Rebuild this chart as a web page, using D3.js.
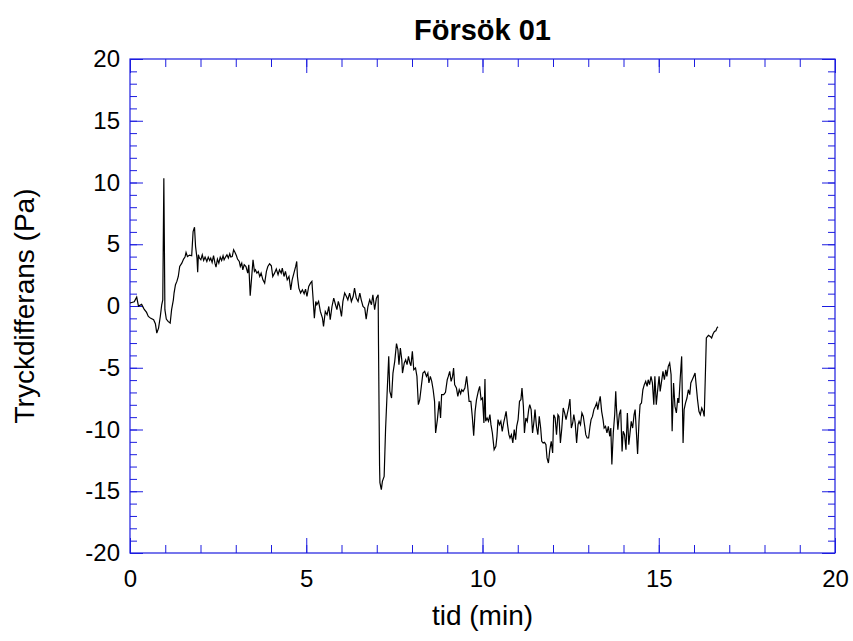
<!DOCTYPE html>
<html>
<head>
<meta charset="utf-8">
<script src="https://cdn.jsdelivr.net/npm/d3@7"></script>
<style>
  html, body { margin: 0; padding: 0; background: #fff; }
  svg { display: block; font-family: "Liberation Sans", Arial, Helvetica, sans-serif; }
</style>
</head>
<body>
<svg id="chart" width="853" height="641"></svg>
<script>
// Försök 01: pressure difference (Pa) over time (min)
const timeMin = [
  0.00,0.12,0.19,0.24,0.33,0.40,0.47,0.52,0.59,0.67,0.72,0.76,0.81,0.86,0.90,0.93,0.96,0.99,1.03,1.08,
  1.14,1.18,1.23,1.25,1.29,1.33,1.37,1.41,1.47,1.52,1.56,1.59,1.63,1.69,1.75,1.79,1.83,1.86,1.90,1.92,
  1.94,1.97,2.01,2.05,2.09,2.13,2.18,2.22,2.26,2.29,2.33,2.37,2.41,2.44,2.48,2.52,2.56,2.60,2.64,2.67,
  2.71,2.75,2.79,2.83,2.86,2.90,2.94,2.98,3.02,3.05,3.10,3.13,3.17,3.20,3.24,3.29,3.34,3.37,3.41,
  3.49,3.53,3.56,3.60,3.64,3.68,3.72,3.77,3.82,3.87,3.91,3.96,4.01,4.05,4.10,4.15,4.20,4.24,4.29,4.32,
  4.37,4.41,4.46,4.51,4.56,4.60,4.65,4.70,4.73,4.75,4.79,4.84,4.89,4.94,4.98,5.02,5.07,5.12,5.16,5.19,
  5.23,5.27,5.30,5.35,5.40,5.46,5.49,5.54,5.59,5.64,5.68,5.73,5.78,5.83,5.87,5.91,5.95,6.00,6.04,6.09,
  6.14,6.18,6.23,6.28,6.33,6.37,6.42,6.47,6.52,6.56,6.61,6.66,6.70,6.75,6.80,6.85,6.89,6.94,6.99,7.04,
  7.05,7.08,7.09,7.13,7.16,7.21,7.25,7.29,7.34,7.37,7.42,7.46,7.51,7.56,7.60,7.63,7.67,7.71,7.73,7.78,
  7.82,7.86,7.90,7.94,7.97,8.01,8.05,8.10,8.14,8.18,8.22,8.27,8.31,8.36,8.41,8.45,8.48,8.52,8.56,8.60,
  8.64,8.67,8.72,8.77,8.81,8.84,8.90,8.95,9.00,9.03,9.07,9.11,9.15,9.18,9.21,9.26,9.30,9.34,9.38,9.41,
  9.45,9.50,9.55,9.58,9.62,9.67,9.71,9.75,9.79,9.83,9.88,9.92,9.96,10.00,10.04,10.07,10.09,10.13,10.17,10.21,
  10.24,10.28,10.33,10.38,10.41,10.44,10.48,10.52,10.56,10.60,10.63,10.67,10.71,10.75,10.78,10.82,10.86,10.90,10.94,10.97,
  11.01,11.05,11.09,11.12,11.16,11.19,11.23,11.27,11.31,11.34,11.38,11.42,11.46,11.49,11.53,11.57,11.61,11.65,11.68,11.72,
  11.76,11.80,11.83,11.87,11.91,11.95,11.99,12.02,12.06,12.10,12.14,12.17,12.21,12.25,12.29,12.33,12.37,12.40,12.44,12.48,
  12.52,12.56,12.59,12.63,12.67,12.71,12.74,12.78,12.82,12.86,12.90,12.93,12.97,13.01,13.05,13.08,13.12,13.16,13.20,13.24,
  13.27,13.31,13.34,13.38,13.42,13.45,13.49,13.53,13.57,13.61,13.64,13.67,13.71,13.75,13.78,13.80,13.84,13.88,13.92,13.96,
  13.99,14.03,14.07,14.11,14.15,14.18,14.22,14.26,14.30,14.33,14.37,14.40,14.44,14.47,14.51,14.55,14.59,14.63,14.67,14.70,
  14.74,14.78,14.82,14.86,14.89,14.93,14.97,15.01,15.04,15.08,15.12,15.16,15.20,15.23,15.27,15.31,15.35,15.38,15.42,15.46,
  15.50,15.54,15.57,15.61,15.65,15.69,15.72,15.76,15.80,15.84,15.88,15.91,15.95,15.99,16.03,16.06,16.10,16.14,16.18,16.22,
  16.26,16.29,16.32,16.35,16.41,16.46,16.50,16.54,16.58,16.62,16.65,16.68
];

const pressurePa = [
  0.24,0.34,0.72,0.00,0.13,-0.25,-0.52,-0.84,-1.00,-1.11,-1.44,-2.19,-1.79,-0.84,0.10,0.50,10.35,-0.30,-1.06,-1.25,
  -1.38,-0.30,0.50,1.05,1.72,1.99,2.39,3.20,3.47,3.80,3.96,4.33,4.00,4.12,4.07,6.03,6.38,4.82,3.88,2.74,
  4.15,3.88,3.74,4.15,3.69,3.96,3.61,3.96,3.69,3.88,3.53,4.07,3.47,3.15,3.80,3.47,3.96,3.69,4.07,3.74,
  3.96,4.15,3.88,4.23,3.96,4.00,4.55,4.33,4.07,3.80,3.61,3.20,3.47,2.93,3.34,3.20,2.66,3.34,0.83,
  3.74,2.80,2.93,2.66,2.80,2.39,2.66,2.12,1.85,2.80,3.20,3.42,3.26,2.39,2.66,2.99,2.53,2.93,2.66,3.07,
  2.39,2.80,2.12,2.39,1.31,2.12,2.66,3.20,3.61,2.39,1.45,1.05,1.31,0.99,1.37,0.77,1.58,1.85,1.99,0.77,
  -0.98,0.37,0.10,0.37,-0.44,-0.98,-1.65,-0.44,-0.71,-0.04,-1.11,-0.04,0.64,0.10,-0.30,0.37,-0.04,-0.84,0.37,1.05,
  0.77,0.50,1.05,0.37,0.77,1.45,0.64,0.37,1.05,0.50,-0.04,-0.17,-1.06,-0.04,0.50,0.10,0.91,-0.30,0.64,0.91,
  -3.20,-12.98,-14.30,-14.87,-14.20,-13.80,-10.00,-7.30,-4.08,-6.90,-7.45,-5.43,-4.48,-3.05,-3.54,-4.75,-3.40,-4.35,-5.43,-4.62,
  -4.35,-4.75,-4.08,-4.62,-4.83,-3.67,-5.16,-5.02,-5.70,-7.99,-7.58,-6.37,-5.43,-5.29,-5.70,-5.43,-6.23,-5.70,-6.10,-6.78,
  -7.72,-10.28,-9.20,-7.72,-9.07,-7.18,-7.18,-6.99,-5.97,-5.70,-5.29,-6.10,-5.70,-5.02,-6.37,-6.64,-7.32,-6.78,-7.10,-6.78,
  -6.91,-6.64,-5.70,-6.51,-7.72,-7.72,-8.94,-10.50,-8.53,-7.58,-6.91,-6.51,-7.58,-7.45,-9.47,-5.91,-9.34,-9.07,-9.34,-8.80,
  -9.61,-10.28,-11.63,-11.36,-10.55,-9.20,-9.61,-9.34,-10.15,-9.47,-9.07,-8.53,-9.61,-10.42,-10.69,-10.42,-11.09,-10.01,-10.82,-9.74,
  -9.20,-7.72,-7.58,-6.64,-8.13,-10.28,-9.07,-9.34,-8.39,-7.99,-8.39,-10.28,-9.34,-8.39,-9.74,-10.42,-8.94,-9.88,-10.96,-11.09,
  -11.04,-11.23,-12.30,-12.71,-11.63,-10.96,-11.90,-8.80,-9.07,-10.42,-8.80,-8.94,-11.09,-9.88,-8.26,-8.66,-9.20,-8.80,-8.26,-7.53,
  -9.88,-9.47,-8.80,-9.47,-11.09,-9.61,-9.34,-9.61,-8.66,-8.94,-9.74,-10.42,-10.69,-10.69,-9.74,-9.20,-8.94,-8.39,-8.13,-7.85,
  -8.39,-7.72,-7.32,-8.53,-9.20,-9.88,-9.74,-10.28,-9.74,-10.55,-9.88,-12.84,-10.28,-8.80,-6.91,-8.26,-10.01,-8.80,-8.39,-11.77,
  -10.15,-10.42,-11.63,-8.66,-11.23,-10.42,-9.34,-9.88,-8.80,-8.39,-10.42,-11.98,-9.34,-7.99,-7.85,-6.78,-6.37,-6.10,-6.51,-5.97,
  -6.37,-5.70,-6.23,-7.99,-5.70,-7.99,-6.78,-5.70,-6.91,-6.10,-5.29,-5.97,-5.16,-5.70,-4.89,-4.62,-5.56,-10.15,-6.23,-8.13,
  -8.66,-7.45,-7.85,-5.83,-4.08,-11.09,-8.39,-7.85,-7.45,-6.78,-7.18,-6.23,-5.97,-5.70,-5.43,-6.37,-7.58,-8.53,-8.80,-8.26,
  -8.53,-8.94,-5.83,-2.59,-2.38,-2.46,-2.59,-2.27,-2.06,-2.00,-1.78,-1.68
];

const xMajorTicks = [0, 5, 10, 15, 20];
const yMajorTicks = [-20, -15, -10, -5, 0, 5, 10, 15, 20];
const xMinorTicks = d3.range(0, 21, 1);
const yMinorTicks = d3.range(-20, 21, 1);

const titleText = "Försök 01";
const xTitle = "tid (min)";
const yTitle = "Tryckdifferans (Pa)";

const points = timeMin.map((t, i) => ({ t, p: pressurePa[i] }));

const svg = d3.select("#chart");
const plotLeft = 130, plotRight = 835, plotTop = 59, plotBottom = 553;
const axisColor = "#1c1ce0";
// plain ASCII hyphen for negative tick labels
const fmt = d => String(d);

const x = d3.scaleLinear().domain([0, 20]).range([plotLeft, plotRight]);
const y = d3.scaleLinear().domain([-20, 20]).range([plotBottom, plotTop]);

function styleAxis(g) {
  g.select(".domain").remove();
  g.selectAll(".tick line").attr("stroke", axisColor).attr("stroke-width", 1);
  g.selectAll(".tick text")
    .attr("fill", "#000")
    .style("font-size", "24px")
    .style("font-family", "\"Liberation Sans\", Arial, sans-serif");
}

// minor ticks on all four sides, pointing inward
svg.append("g").attr("transform", `translate(0,${plotBottom})`)
  .call(d3.axisBottom(x).tickValues(xMinorTicks).tickSize(-8).tickFormat(""))
  .call(styleAxis);
svg.append("g").attr("transform", `translate(0,${plotTop})`)
  .call(d3.axisTop(x).tickValues(xMinorTicks).tickSize(-8).tickFormat(""))
  .call(styleAxis);
svg.append("g").attr("transform", `translate(${plotLeft},0)`)
  .call(d3.axisLeft(y).tickValues(yMinorTicks).tickSize(-7).tickFormat(""))
  .call(styleAxis);
svg.append("g").attr("transform", `translate(${plotRight},0)`)
  .call(d3.axisRight(y).tickValues(yMinorTicks).tickSize(-7).tickFormat(""))
  .call(styleAxis);

// major ticks, labelled on the bottom and left
svg.append("g").attr("transform", `translate(0,${plotBottom})`)
  .call(d3.axisBottom(x).tickValues(xMajorTicks).tickSize(-15).tickPadding(17).tickFormat(fmt))
  .call(styleAxis);
svg.append("g").attr("transform", `translate(0,${plotTop})`)
  .call(d3.axisTop(x).tickValues(xMajorTicks).tickSize(-14).tickFormat(""))
  .call(styleAxis);
svg.append("g").attr("transform", `translate(${plotLeft},0)`)
  .call(d3.axisLeft(y).tickValues(yMajorTicks).tickSize(-13).tickPadding(10).tickFormat(fmt))
  .call(styleAxis);
svg.append("g").attr("transform", `translate(${plotRight},0)`)
  .call(d3.axisRight(y).tickValues(yMajorTicks).tickSize(-13).tickFormat(""))
  .call(styleAxis);

// plot frame
svg.append("rect")
  .attr("x", plotLeft).attr("y", plotTop)
  .attr("width", plotRight - plotLeft).attr("height", plotBottom - plotTop)
  .attr("fill", "none").attr("stroke", axisColor).attr("stroke-width", 1.2);

// data trace
const line = d3.line().x(d => x(d.t)).y(d => y(d.p));
svg.append("path")
  .datum(points)
  .attr("d", line)
  .attr("fill", "none")
  .attr("stroke", "#000")
  .attr("stroke-width", 1.2)
  .attr("stroke-linejoin", "miter");

// titles
svg.append("text")
  .attr("x", (plotLeft + plotRight) / 2).attr("y", 40)
  .attr("text-anchor", "middle")
  .style("font-size", "29px").style("font-weight", "bold")
  .text(titleText);

svg.append("text")
  .attr("x", (plotLeft + plotRight) / 2).attr("y", 625)
  .attr("text-anchor", "middle")
  .style("font-size", "28px")
  .text(xTitle);

svg.append("text")
  .attr("transform", `translate(34,${(plotTop + plotBottom) / 2}) rotate(-90)`)
  .attr("text-anchor", "middle")
  .style("font-size", "28px")
  .text(yTitle);
</script>
</body>
</html>
